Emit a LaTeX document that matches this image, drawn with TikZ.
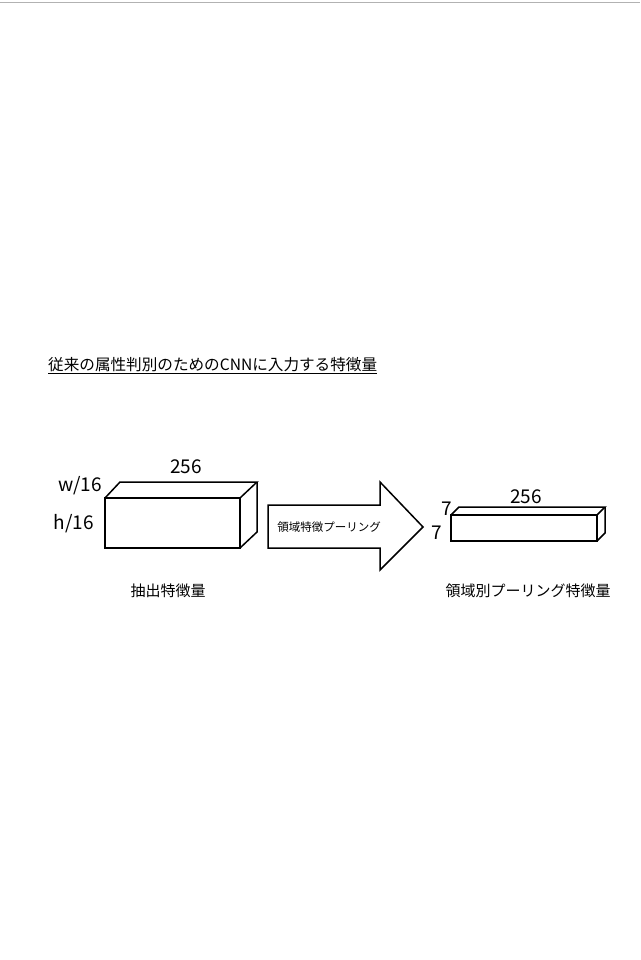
\documentclass[tikz,border=0pt]{standalone}
\usepackage{fontspec}
\setmainfont{Noto Sans CJK JP}
\newfontfamily\lightfont{Noto Sans CJK JP Light}
\begin{document}
\begin{tikzpicture}[x=1pt,y=-1pt,
  edge/.style={draw=black,line width=1.5pt,line join=miter},
  num/.style={font=\fontsize{19}{19}\selectfont},
  lab/.style={font=\fontsize{15}{15}\selectfont}]
\useasboundingbox (0,0) rectangle (640,960);
\draw[gray!60,line width=0.5pt] (0,2) -- (640,2);
\node[anchor=west,font=\fontsize{15.6}{16}\selectfont,inner sep=0pt] (title) at (48,366) {\underline{従来の属性判別のためのCNNに入力する特徴量}};
% box 1
\draw[edge] (105,498) rectangle (240,548);
\draw[edge] (105,498) -- (120,482) -- (257,482) -- (240,498);
\draw[edge] (257,482) -- (257,532) -- (240,548);
\node[num] (a256) at (186,467) {256};
\node[num] (aw) at (80,486) {w/16};
\node[num] (ah) at (74,524) {h/16};
% arrow
\draw[edge] (268,505) -- (380,505) -- (380,482) -- (423,527) -- (380,570) -- (380,548) -- (268,548) -- cycle;
\node[font=\fontsize{11.5}{12}\selectfont] (arr) at (329,527) {領域特徴プーリング};
% box 2
\draw[edge] (451,515) rectangle (597,541);
\draw[edge] (451,515) -- (459,507) -- (605,507) -- (597,515);
\draw[edge] (605,507) -- (605,533) -- (597,541);
\node[num] (b256) at (526,497) {256};
\node[num] (b7a) at (447,509) {7};
\node[num] (b7b) at (437,533) {7};
\node[lab] (l1) at (168,591) {抽出特徴量};
\node[lab] (l2) at (528,591) {領域別プーリング特徴量};
\end{tikzpicture}
\end{document}
